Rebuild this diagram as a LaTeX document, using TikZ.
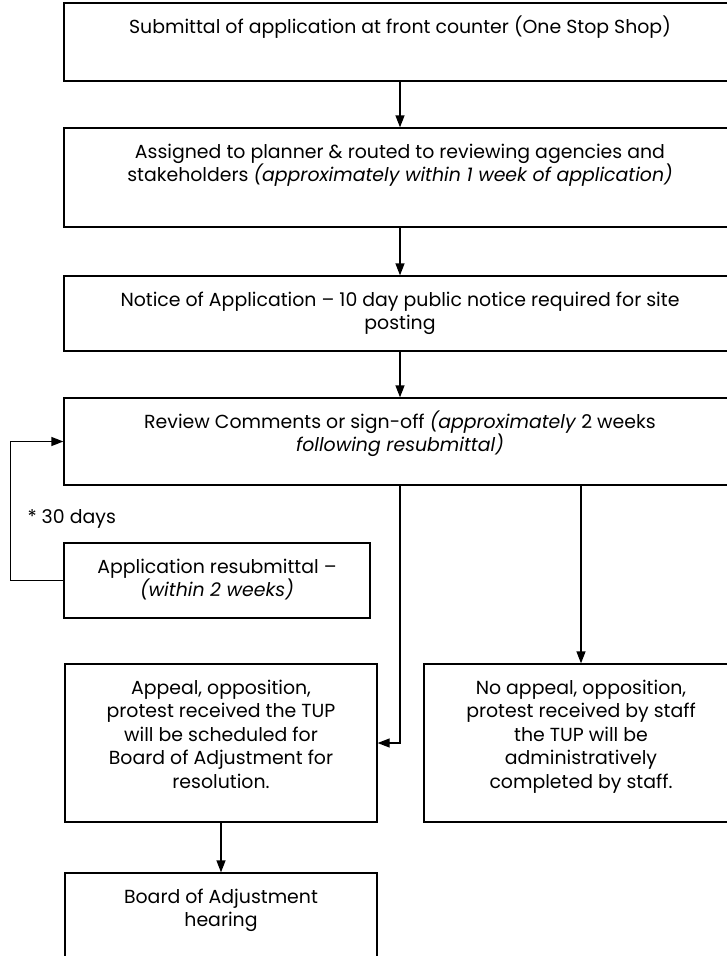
\documentclass[tikz,border=0pt]{standalone}
\usepackage{fontspec}
\setmainfont{Poppins}
\usetikzlibrary{arrows.meta}
\newcommand{\stagetext}[3]{\parbox[c][#2][t]{#1}{\centering\rule{0pt}{30pt}#3}}
\tikzset{
  stage/.style={draw, line width=1.3pt, inner sep=0pt},
  flow/.style={line width=1.3pt, -{Triangle[length=12pt,width=9pt]}}
}
\begin{document}
\begin{tikzpicture}[x=1pt, y=-1pt, font=\fontsize{18.9}{23.5}\selectfont]
    \useasboundingbox (0,0) rectangle (726,956);
    %main column
    \node[stage] (sub) at (400,42) {\stagetext{672pt}{78pt}{Submittal of application at front counter (One Stop Shop)}};
    \node[stage] (assign) at (400,177.5) {\stagetext{672pt}{99pt}{Assigned to planner \& routed to reviewing agencies and\\ stakeholders \textit{(approximately within 1 week of application)}}};
    \node[stage] (notice) at (400,313.5) {\stagetext{672pt}{75pt}{Notice of Application – 10 day public notice required for site\\ posting}};
    \node[stage] (review) at (400,441.5) {\stagetext{672pt}{87pt}{Review Comments or sign-off \textit{(approximately} 2 weeks\\ \textit{following resubmittal)}}};
    %resubmittal loop
    \node[stage] (resub) at (217,580.5) {\stagetext{306pt}{75pt}{Application resubmittal –\\ \textit{(within 2 weeks)}}};
    \node[anchor=west] (days) at (24,519) {* 30 days};
    %outcomes
    \node[stage] (appeal) at (221,743) {\stagetext{312pt}{158pt}{Appeal, opposition,\\ protest received the TUP\\ will be scheduled for\\ Board of Adjustment for\\ resolution.}};
    \node[stage] (noappeal) at (581,743) {\stagetext{314pt}{158pt}{No appeal, opposition,\\ protest received by staff\\ the TUP will be\\ administratively\\ completed by staff.}};
    \node[stage] (hearing) at (221,926.5) {\stagetext{312pt}{107pt}{Board of Adjustment\\ hearing}};
    %connectors
    \draw[flow] (sub) -- (assign);
    \draw[flow] (assign) -- (notice);
    \draw[flow] (notice) -- (review);
    \draw[flow] (resub.west) -- ++(-53,0) |- (review.west);
    \draw[flow] (review.south) |- (appeal.east);
    \draw[flow] (review.south -| noappeal.north) -- (noappeal.north);
    \draw[flow] (appeal) -- (hearing);
\end{tikzpicture}
\end{document}
